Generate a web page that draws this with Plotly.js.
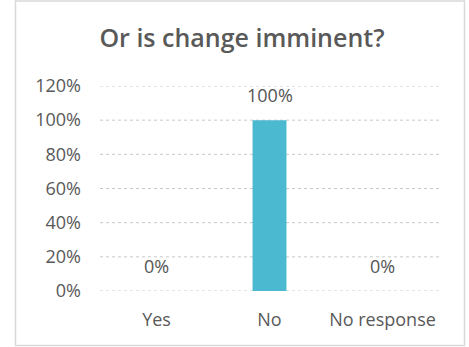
<!DOCTYPE html>
<html>
<head>
<meta charset="utf-8">
<script src="https://cdn.plot.ly/plotly-3.0.1.min.js"></script>
<style>html,body{margin:0;padding:0;background:#fff;}#chart{width:469px;height:347px;}</style>
</head>
<body>
<div id="chart"></div>
<script>
const categories = ["Yes", "No", "No response"];
const values = [0, 1, 0];
const tickVals = [0, 0.2, 0.4, 0.6, 0.8, 1.0, 1.2];
const tickText = ["0%", "20%", "40%", "60%", "80%", "100%", "120%"];
const labels = values.map(v => Math.round(v * 100) + "%");

const FONT = "'Open Sans', sans-serif";

const trace = {
  type: "bar",
  x: categories,
  y: values,
  marker: {color: "#4BB9CF"},
  width: 0.3,
  hoverinfo: "none"
};

const annotations = categories.map((c, i) => ({
  x: c, y: values[i], xref: "x", yref: "y", text: labels[i], showarrow: false,
  yshift: 25, yanchor: "middle", font: {family: FONT, size: 18, color: "#555555"}
}));

const gridShapes = tickVals.map(v => ({
  type: "line", xref: "paper", yref: "y", x0: 0, x1: 1, y0: v, y1: v,
  line: {color: "#c8c8c8", width: 1, dash: "dot"}, layer: "below"
}));

const layout = {
  width: 469, height: 347,
  margin: {l: 100, r: 30, t: 86, b: 56},
  paper_bgcolor: "#fff", plot_bgcolor: "#fff",
  font: {family: FONT, size: 18, color: "#595959"},
  title: {text: "Or is change imminent?", x: 0.516, xanchor: "center", y: 0.89, yanchor: "middle",
          font: {family: FONT, size: 25, color: "#595959", weight: 600}},
  showlegend: false,
  xaxis: {showgrid: false, zeroline: false, showline: false, ticks: "", ticklabelstandoff: 16,
          tickfont: {family: FONT, size: 18, color: "#595959"}, fixedrange: true},
  yaxis: {range: [0, 1.2], tickvals: tickVals, ticktext: tickText, showgrid: false,
          zeroline: false, showline: false, ticks: "", ticklabelstandoff: 18,
          tickfont: {family: FONT, size: 18, color: "#595959"}, fixedrange: true, automargin: false},
  annotations: annotations,
  shapes: [{type: "rect", xref: "paper", yref: "paper", x0: -0.2493, x1: 1.0752, y0: -0.2659, y1: 1.4146,
            line: {color: "#d9d9d9", width: 1.5}, fillcolor: "rgba(0,0,0,0)", layer: "below"}].concat(gridShapes)
};

Plotly.newPlot("chart", [trace], layout, {displayModeBar: false, staticPlot: true});
</script>
</body>
</html>
